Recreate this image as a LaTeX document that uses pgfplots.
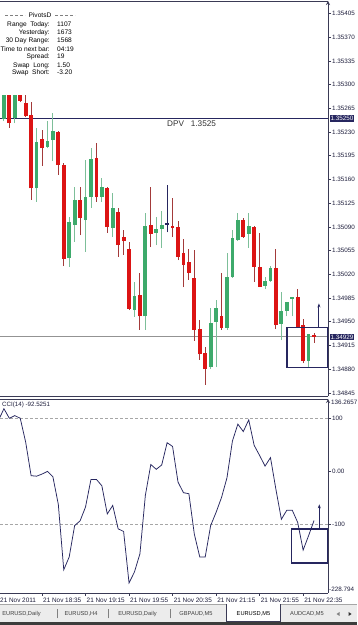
\documentclass[border=0pt]{standalone}
\usepackage{fontspec}
\setmainfont{Liberation Sans}
\usepackage{pgfplots}
\usepackage{pgfplotstable}
\pgfplotsset{compat=1.18}
\usetikzlibrary{arrows.meta}
\definecolor{bullbody}{HTML}{3DAA6B}
\definecolor{bullwick}{HTML}{7DBF99}
\definecolor{bearbody}{HTML}{DC1414}
\definecolor{bearwick}{HTML}{A33A3A}
\definecolor{navy}{HTML}{26265F}
\definecolor{axisc}{HTML}{3A3A55}
\definecolor{lbl}{HTML}{1E1E3C}
\definecolor{tabbg}{HTML}{ECECEC}
\definecolor{darkbar}{HTML}{3C3C3C}
\newcommand{\fs}[1]{\fontsize{#1}{#1}\selectfont}

% bullish candles: k open high low close
\pgfplotstableread{
k o h l c
-7 1.35249 1.35285 1.35246 1.35285
-5 1.35251 1.35285 1.35243 1.35285
-1 1.35147 1.35236 1.35127 1.35215
1 1.35208 1.35246 1.35206 1.35217
2 1.35218 1.35258 1.35187 1.35232
5 1.35044 1.35105 1.35031 1.35097
6 1.35093 1.35149 1.35068 1.35130
8 1.35100 1.35189 1.35053 1.35134
9 1.35134 1.35206 1.35118 1.35190
11 1.35134 1.35162 1.35127 1.35149
13 1.35088 1.35140 1.35075 1.35118
17 1.34967 1.35009 1.34957 1.34988
19 1.34958 1.35111 1.34938 1.35091
21 1.35081 1.35105 1.35063 1.35087
22 1.35087 1.35113 1.35059 1.35093
31 1.34883 1.34970 1.34880 1.34948
32 1.34950 1.34982 1.34883 1.34970
34 1.34941 1.35051 1.34938 1.35016
35 1.35016 1.35085 1.35015 1.35074
36 1.35071 1.35111 1.35069 1.35100
38 1.35080 1.35111 1.35059 1.35091
41 1.35003 1.35016 1.34998 1.35010
42 1.35010 1.35032 1.35009 1.35029
44 1.34947 1.34994 1.34923 1.34966
45 1.34966 1.34979 1.34958 1.34979
46 1.34984 1.34987 1.34958 1.34987
49 1.34892 1.34932 1.34883 1.34932
}\bull

% bearish candles: k open high low close
\pgfplotstableread{
k o h l c
-6 1.35285 1.35285 1.35236 1.35243
-4 1.35285 1.35285 1.35274 1.35276
-3 1.35273 1.35285 1.35252 1.35254
-2 1.35255 1.35274 1.35130 1.35147
0 1.35220 1.35233 1.35180 1.35206
3 1.35230 1.35232 1.35167 1.35181
4 1.35181 1.35184 1.35032 1.35043
7 1.35130 1.35149 1.35078 1.35103
10 1.35192 1.35214 1.35127 1.35134
12 1.35147 1.35149 1.35081 1.35090
14 1.35112 1.35118 1.35046 1.35063
15 1.35075 1.35085 1.35049 1.35069
16 1.35057 1.35068 1.34967 1.34969
18 1.34989 1.35022 1.34938 1.34958
20 1.35093 1.35149 1.35060 1.35080
24 1.35091 1.35133 1.35075 1.35088
25 1.35090 1.35099 1.35041 1.35046
26 1.35051 1.35072 1.35001 1.35034
27 1.35038 1.35057 1.35012 1.35022
28 1.35015 1.35056 1.34922 1.34938
29 1.34939 1.34953 1.34894 1.34902
30 1.34904 1.34913 1.34857 1.34880
33 1.34958 1.35022 1.34938 1.34941
37 1.35100 1.35103 1.35074 1.35075
39 1.35090 1.35091 1.35009 1.35031
40 1.35031 1.35081 1.35001 1.35001
43 1.35029 1.35057 1.34939 1.34945
47 1.34987 1.34998 1.34942 1.34942
48 1.34945 1.34954 1.34889 1.34892
50 1.34930 1.34933 1.34919 1.34928
}\bear

% doji candle
\pgfplotstableread{
k o h l c
23 1.35095 1.35152 1.35082 1.35093
}\doji

% CCI(14)
\pgfplotstableread{
k cci
-8 96
-7 118
-6 100
-5 105
-4 100
-3 55
-2 -8
-1 -9
0 -5
1 0
2 -10
3 -62
4 -185
5 -161
6 -102
7 -93
8 -67
9 -15
10 -15
11 -27
12 -80
13 -64
14 -108
15 -113
16 -210
17 -189
18 -155
19 -45
20 13
21 4
22 12
23 54
24 47
25 -20
26 -40
27 -42
28 -118
29 -161
30 -161
31 -102
32 -77
33 -49
34 -12
35 57
36 89
37 75
38 97
39 49
40 30
41 10
42 26
43 -34
44 -90
45 -73
46 -73
47 -96
48 -148
49 -121
50 -92.5251
}\ccitab

\pgfplotsset{candle/.style n args={2}{draw=none, mark=none, forget plot,
  error bars/.cd, y dir=plus, y explicit, error mark=none,
  error bar style={draw=#1, line width=#2}}}

\begin{document}
\begin{tikzpicture}[x=1pt,y=1pt]
\useasboundingbox (0,0) rectangle (357,625);
\fill[white] (0,0) rectangle (357,625);

% ---------------- main price window ----------------
\begin{axis}[
  at={(0pt,229pt)}, anchor=south west, scale only axis,
  width=328pt, height=395pt,
  xmin=-7.72, xmax=52.57, ymin=1.348404, ymax=1.354234,
  axis x line=box, axis y line=right,
  axis line style={draw=axisc, line width=0.8pt},
  xtick=\empty,
  ytick={1.34845,1.3488,1.34915,1.3495,1.34985,1.3502,1.35055,1.3509,1.35125,1.3516,1.35195,1.3523,1.35265,1.353,1.35335,1.3537,1.35405},
  yticklabels={1.34845,1.34880,1.34915,1.34950,1.34985,1.35020,1.35055,1.35090,1.35125,1.35160,1.35195,1.35230,1.35265,1.35300,1.35335,1.35370,1.35405},
  ytick align=outside, major tick length=3pt,
  tick style={draw=axisc, line width=0.6pt},
  yticklabel style={font=\fs{6.3}, text=lbl, inner sep=1pt},
  clip mode=individual,
]
% level lines
\addplot[navy, line width=1.8pt, forget plot] coordinates {(-7.72,1.3525) (52.57,1.3525)};
\addplot[gray!85, line width=0.8pt, forget plot] coordinates {(-7.72,1.34929) (52.57,1.34929)};
% wicks
\addplot[candle={bearwick}{0.9pt}] table[x=k, y=l, y error expr=\thisrow{h}-\thisrow{l}] {\bear};
\addplot[candle={bullwick}{0.9pt}] table[x=k, y=l, y error expr=\thisrow{h}-\thisrow{l}] {\bull};
\addplot[candle={navy}{0.9pt}] table[x=k, y=l, y error expr=\thisrow{h}-\thisrow{l}] {\doji};
% bodies
\addplot[candle={bearbody}{3.8pt}] table[x=k, y=c, y error expr=\thisrow{o}-\thisrow{c}] {\bear};
\addplot[candle={bullbody}{3.8pt}] table[x=k, y=o, y error expr=\thisrow{c}-\thisrow{o}] {\bull};
\addplot[candle={navy}{3.8pt}] table[x=k, y=c, y error expr=\thisrow{o}-\thisrow{c}] {\doji};
% hand-drawn annotations
\draw[navy, line width=1.3pt] (axis cs:45.04,1.34942) rectangle (axis cs:52.45,1.34882);
\draw[navy, line width=1.1pt, -{Stealth[length=4pt,width=3pt]}] (axis cs:50.9,1.34942) -- (axis cs:50.9,1.34977);
\end{axis}

% ---------------- CCI window ----------------
\begin{axis}[
  at={(0pt,32pt)}, anchor=south west, scale only axis,
  width=328pt, height=194pt,
  xmin=-7.72, xmax=52.57, ymin=-228.794, ymax=136.2657,
  axis x line=box, axis y line=right,
  axis line style={draw=axisc, line width=0.8pt},
  xtick={0,8,16,24,32,40,48},
  xticklabels={21 Nov 18:35,21 Nov 19:15,21 Nov 19:55,21 Nov 20:35,21 Nov 21:15,21 Nov 21:55,21 Nov 22:35},
  xtick pos=left,
  xticklabel style={font=\fs{6.4}, text=lbl, anchor=north west, inner sep=0pt, xshift=1pt, yshift=-1.5pt},
  ytick={100,0,-100}, yticklabels={100,0.00,-100},
  ytick align=outside, xtick align=outside, major tick length=3pt,
  tick style={draw=axisc, line width=0.6pt},
  yticklabel style={font=\fs{6.3}, text=lbl, inner sep=1pt},
  clip mode=individual,
]
\addplot[gray!70, densely dashed, line width=0.6pt, forget plot] coordinates {(-7.72,100) (52.57,100)};
\addplot[gray!70, densely dashed, line width=0.6pt, forget plot] coordinates {(-7.72,-100) (52.57,-100)};
\addplot[navy, line width=0.75pt, forget plot] table[x=k, y=cci] {\ccitab};
\draw[navy, line width=1.3pt] (axis cs:45.9,-108.4) rectangle (axis cs:52.45,-172.4);
\draw[navy, line width=1.1pt, -{Stealth[length=4pt,width=3pt]}] (axis cs:50.97,-106.5) -- (axis cs:50.97,-62);
\end{axis}

% ---------------- price boxes and extreme labels ----------------
\node[anchor=west, fill=navy, text=white, inner sep=0.9pt, font=\fs{6.3}] at (329.5,506.5) {1.35250};
\node[anchor=west, fill=navy, text=white, inner sep=0.9pt, font=\fs{6.3}] at (329.5,288) {1.34929};
\node[anchor=west, text=lbl, inner sep=0pt, font=\fs{6.3}] at (331,222.8) {136.2657};
\node[anchor=west, text=lbl, inner sep=0pt, font=\fs{6.3}] at (329,35.8) {-228.794};

% ---------------- info panel ----------------
\draw[gray, densely dashed, line width=0.5pt] (5,609.3) -- (25,609.3);
\draw[gray, densely dashed, line width=0.5pt] (55,609.3) -- (75,609.3);
\node[anchor=base, font=\fs{6.6}] at (40,607) {PivotsD};
\begin{scope}[every node/.style={font=\fs{6.6}, inner sep=0pt}]
\node[anchor=base east] at (50,598.7) {Range\ \ Today:};
\node[anchor=base east] at (50,590.4) {Yesterday:};
\node[anchor=base east] at (50,582) {30 Day Range:};
\node[anchor=base east] at (50,573.7) {Time to next bar:};
\node[anchor=base east] at (50,566) {Spread:};
\node[anchor=base east] at (50,557.7) {Swap\ \ Long:};
\node[anchor=base east] at (50,550) {Swap\ \ Short:};
\node[anchor=base west] at (57,598.7) {1107};
\node[anchor=base west] at (57,590.4) {1673};
\node[anchor=base west] at (57,582) {1568};
\node[anchor=base west] at (57,573.7) {04:19};
\node[anchor=base west] at (57,566) {19};
\node[anchor=base west] at (57,557.7) {1.50};
\node[anchor=base west] at (57,550) {-3.20};
\end{scope}

% DPV label
\node[anchor=base west, inner sep=0pt, font=\fs{8.2}, text=black!80] at (167,498) {DPV\ \ \ 1.3525};

% CCI title
\node[anchor=base west, inner sep=0pt, font=\fs{6.2}, text=lbl] at (2,218) {CCI(14) -92.5251};

% first time label
\node[anchor=north west, inner sep=0pt, font=\fs{6.4}, text=lbl] at (0,27.5) {21 Nov 2011};

% ---------------- tab bar ----------------
\fill[tabbg] (0,3) rectangle (357,21);
\draw[gray!70, line width=0.6pt] (0,21) -- (357,21);
\fill[darkbar] (0,0) rectangle (357,3);
\fill[white] (226.5,3.5) rectangle (280.5,21.3);
\draw[axisc, line width=0.6pt] (226.5,21) -- (226.5,3.5) -- (280.5,3.5) -- (280.5,21);
\begin{scope}[every node/.style={font=\fs{5.7}, inner sep=0pt, text=black!75}]
\node at (21.5,11) {EURUSD,Daily};
\node at (81,11) {EURUSD,H4};
\node at (137.5,11) {EURUSD,Daily};
\node at (196,11) {GBPAUD,M5};
\node[text=black] at (253.5,11) {EURUSD,M5};
\node at (307,11) {AUDCAD,M5};
\end{scope}
\foreach \sx in {57,108,170} {\draw[gray, line width=0.5pt] (\sx,6.5) -- (\sx,15.5);}
\fill[gray] (336.5,11) -- (339.5,13) -- (339.5,9) -- cycle;
\fill[black!80] (351.5,11) -- (348.5,13) -- (348.5,9) -- cycle;
\end{tikzpicture}
\end{document}
